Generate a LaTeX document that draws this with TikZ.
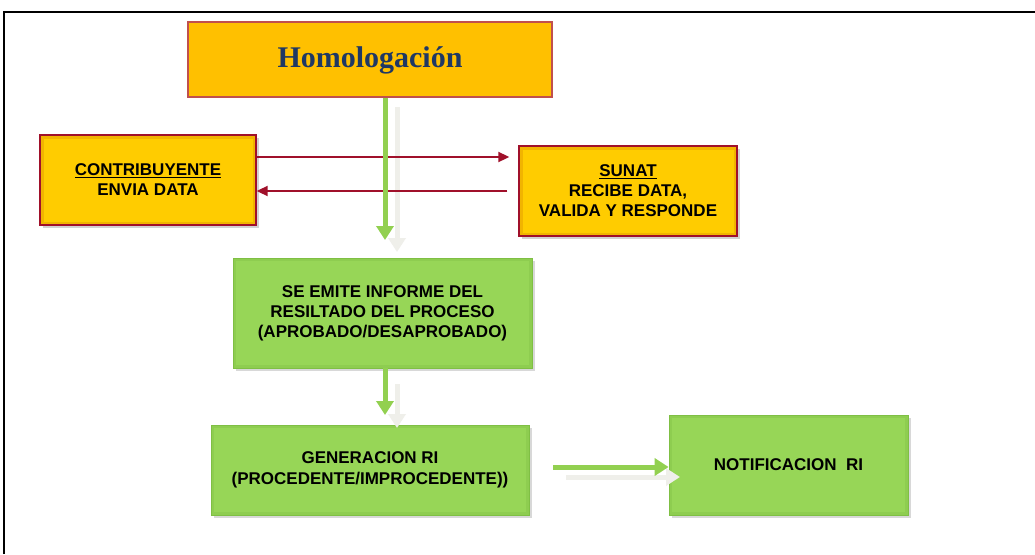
\documentclass[tikz,border=0pt]{standalone}
\usepackage{fontspec}
\setmainfont{Liberation Sans}
\newfontfamily\serifhead{Liberation Serif}
\usetikzlibrary{arrows.meta,shadows,calc}
\definecolor{gold}{HTML}{FFC000}
\definecolor{yel}{HTML}{FFCC00}
\definecolor{yeledge}{HTML}{E9A400}
\definecolor{redb}{HTML}{C0504D}
\definecolor{darkred}{HTML}{A0102A}
\definecolor{navy}{HTML}{1F3864}
\definecolor{gfill}{HTML}{97D657}
\definecolor{gedge}{HTML}{7FBF44}
\definecolor{garr}{HTML}{92D050}
\definecolor{shadowarr}{HTML}{EFEFEA}
\tikzset{
  every node/.style={inner sep=0pt},
  headbox/.style={draw=redb, line width=1.2pt, fill=gold, minimum width=364pt, minimum height=75pt},
  ybox/.style={draw=darkred, line width=1.4pt, fill=yel, align=center,
    drop shadow={shadow xshift=3pt, shadow yshift=-3pt, opacity=0.35},
    path picture={\draw[yeledge, line width=7pt, opacity=0.6] (path picture bounding box.south west) rectangle (path picture bounding box.north east);},
    font=\fontsize{17}{20}\selectfont\bfseries},
  gbox/.style={draw=gedge, line width=0.8pt, fill=gfill, align=center,
    drop shadow={shadow xshift=3pt, shadow yshift=-3pt, opacity=0.3},
    path picture={\draw[gedge, line width=6pt, opacity=0.35] (path picture bounding box.south west) rectangle (path picture bounding box.north east);},
    font=\fontsize{17}{21}\selectfont\bfseries},
  garrow/.style={draw=garr, line width=5pt, -{Triangle[width=17pt,length=14pt]}},
  sarrow/.style={draw=shadowarr, line width=5pt, -{Triangle[width=17pt,length=14pt]}},
  rarrow/.style={draw=darkred, line width=2pt, -{Triangle[width=10pt,length=11pt]}},
  frame/.style={draw=black, line width=2pt}
}
\begin{document}
\begin{tikzpicture}[x=1pt,y=-1pt]
\useasboundingbox (0,0) rectangle (1035,554);
\fill[white] (0,0) rectangle (1035,554);
\coordinate (fbl) at (4,554);
\coordinate (ftl) at (4,11.5);
\coordinate (ftr) at (1035,11.5);
\draw[frame] (fbl) -- (ftl) -- (ftr);

% boxes
\node[headbox] (homolog) at (370,59.5) {};
\node[text=navy, font=\serifhead\fontsize{30}{34}\selectfont\bfseries] (homologtxt) at (370,60) {Homologación};
\node[ybox, minimum width=216pt, minimum height=90pt] (contrib) at (148,180) {\underline{CONTRIBUYENTE}\\ENVIA DATA};
\node[ybox, minimum width=218pt, minimum height=90pt] (sunat) at (628,191) {\underline{SUNAT}\\RECIBE DATA,\\VALIDA Y RESPONDE};
\node[gbox, minimum width=299pt, minimum height=110pt, font=\fontsize{17}{20}\selectfont\bfseries] (inform) at (382.5,313) {SE EMITE INFORME DEL\\RESILTADO DEL PROCESO\\(APROBADO/DESAPROBADO)};
\node[gbox, minimum width=318pt, minimum height=90pt] (gen) at (370,470) {GENERACION RI\\(PROCEDENTE/IMPROCEDENTE))};
\node[gbox, minimum width=239pt, minimum height=100pt] (notif) at (788.5,465) {NOTIFICACION\ \ RI};

% arrow coordinates
\coordinate (s1a) at (397,107);
\coordinate (s1b) at (397,252);
\coordinate (a1) at (385,240);
\coordinate (s2a) at (397,384);
\coordinate (s2b) at (397,428);
\coordinate (a2) at (385,415);
\coordinate (a3s) at (553,467);
\coordinate (s3a) at (566,477);
\coordinate (s3b) at (680,477);
\coordinate (r1) at (0,157);
\coordinate (r2) at (0,191);

% shadow arrows
\draw[sarrow] (s1a) -- (s1b);
\draw[sarrow] (s2a) -- (s2b);
\draw[sarrow] (s3a) -- (s3b);

% red arrows
\draw[rarrow, shorten >=9pt] (contrib.east |- r1) -- (sunat.west |- r1);
\draw[rarrow, shorten <=11pt] (sunat.west |- r2) -- (contrib.east |- r2);

% green arrows
\draw[garrow] (homolog.south -| a1) -- (a1);
\draw[garrow] (inform.south -| a2) -- (a2);
\draw[garrow] (a3s) -- (notif.west |- a3s);
\end{tikzpicture}
\end{document}
